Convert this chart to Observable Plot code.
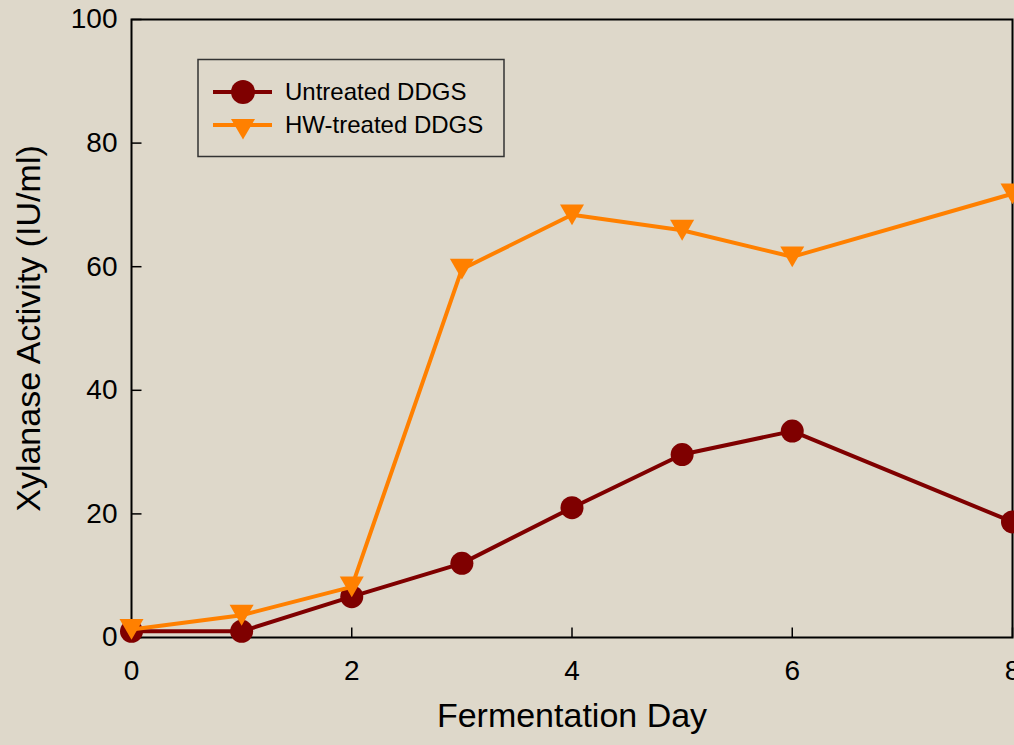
<!DOCTYPE html>
<html><head><meta charset="utf-8">
<script src="https://cdn.jsdelivr.net/npm/d3@7"></script>
<script src="https://cdn.jsdelivr.net/npm/@observablehq/plot@0.6"></script>
<style>
html,body{margin:0;padding:0;background:#ded8ca;overflow:hidden;}
#wrap{position:relative;width:1014px;height:745px;}
#wrap svg.overlay{position:absolute;left:0;top:0;pointer-events:none;}
</style></head><body><div id="wrap"></div>
<script>
// ---- data ----
const days = [0, 1, 2, 3, 4, 5, 6, 8];
const untreated = [1.0, 1.0, 6.6, 12.0, 21.0, 29.6, 33.4, 18.7];
const hwTreated = [1.3, 3.6, 8.2, 59.6, 68.4, 65.9, 61.6, 71.8];
const seriesNames = ["Untreated DDGS", "HW-treated DDGS"];
const xTicks = [0, 2, 4, 6, 8];
const yTicks = [0, 20, 40, 60, 80, 100];
const xLabel = "Fermentation Day";
const yLabel = "Xylanase Activity (IU/ml)";

// ---- styles ----
const FONT = '"Liberation Sans", Arial, Helvetica, sans-serif';
const RED = "#7f0000", ORANGE = "#ff8000", BG = "#ded8ca";

const untreatedRows = days.map((d, i) => ({day: d, value: untreated[i]}));
const hwRows = days.map((d, i) => ({day: d, value: hwTreated[i]}));

const triDown = {draw(ctx, size) {
  const r = Math.sqrt(size / Math.PI), h = r * Math.sqrt(3) / 2;
  ctx.moveTo(-r, -h); ctx.lineTo(r, -h); ctx.lineTo(0, h); ctx.closePath();
}};
const tickUp = {draw(ctx) { ctx.moveTo(0, 0); ctx.lineTo(0, -10); }};
const tickRight = {draw(ctx) { ctx.moveTo(0, 0); ctx.lineTo(10, 0); }};

const chart = Plot.plot({
  width: 1014, height: 745,
  marginLeft: 131, marginRight: 2, marginTop: 19, marginBottom: 108,
  style: {background: BG, fontFamily: FONT, color: "black", overflow: "visible"},
  x: {domain: [0, 8]},
  y: {domain: [0, 100]},
  marks: [
    Plot.axisY(yTicks, {tickSize: 0, tickPadding: 14, fontSize: 28, label: null, fill: "black"}),
    Plot.axisX(xTicks, {tickSize: 0, tickPadding: 23, fontSize: 28, label: null, fill: "black"}),
    Plot.frame({stroke: "black", strokeWidth: 2}),
    Plot.dot(xTicks, {x: d => d, frameAnchor: "bottom", symbol: tickUp, r: 5, stroke: "black", strokeWidth: 1.5, fill: "none"}),
    Plot.dot(yTicks, {y: d => d, frameAnchor: "left", symbol: tickRight, r: 5, stroke: "black", strokeWidth: 1.5, fill: "none"}),
    Plot.line(untreatedRows, {x: "day", y: "value", stroke: RED, strokeWidth: 4}),
    Plot.dot(untreatedRows, {x: "day", y: "value", r: 11.5, fill: RED, stroke: "none"}),
    Plot.line(hwRows, {x: "day", y: "value", stroke: ORANGE, strokeWidth: 4}),
    Plot.dot(hwRows, {x: "day", y: "value", r: 12, symbol: triDown, fill: ORANGE, stroke: "none"}),
    Plot.text([xLabel], {text: d => d, frameAnchor: "bottom", textAnchor: "middle", lineAnchor: "bottom", dy: 89, fontSize: 34, fill: "black"}),
    Plot.text([yLabel], {text: d => d, frameAnchor: "left", textAnchor: "middle", rotate: -90, lineAnchor: "bottom", dx: -92, fontSize: 34, fill: "black"})
  ]
});
const wrap = document.getElementById("wrap");
wrap.appendChild(chart);

// ---- legend overlay ----
const svg = d3.select(wrap).append("svg").attr("class", "overlay")
  .attr("width", 1014).attr("height", 745);
const lg = svg.append("g");
lg.append("rect").attr("x", 198).attr("y", 59.5).attr("width", 306).attr("height", 97)
  .attr("fill", "none").attr("stroke", "#333").attr("stroke-width", 1.5);
const items = [
  {name: seriesNames[0], color: RED, y: 92, kind: "circle"},
  {name: seriesNames[1], color: ORANGE, y: 125, kind: "tri"}
];
items.forEach(it => {
  lg.append("line").attr("x1", 213).attr("x2", 272).attr("y1", it.y).attr("y2", it.y)
    .attr("stroke", it.color).attr("stroke-width", 4);
  if (it.kind === "circle") {
    lg.append("circle").attr("cx", 243).attr("cy", it.y).attr("r", 12).attr("fill", it.color);
  } else {
    lg.append("path").attr("d", "M231,119L255,119L243,139.5Z").attr("fill", it.color);
  }
  lg.append("text").attr("x", 285).attr("y", it.y + 8).attr("font-size", 24)
    .attr("font-family", FONT).attr("fill", "black").text(it.name);
});
</script></body></html>
